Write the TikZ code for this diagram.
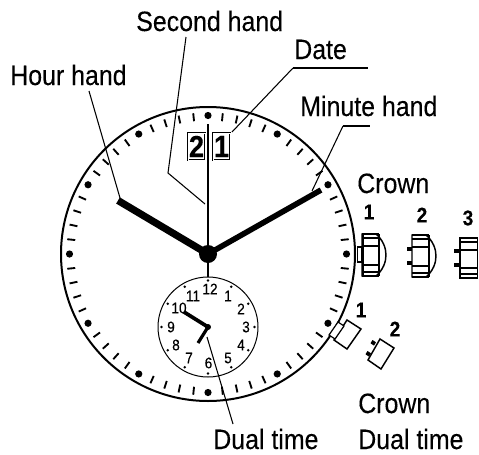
\documentclass[tikz,border=0pt]{standalone}
\usepackage{fontspec}
\usetikzlibrary{calc}
\setmainfont[FakeStretch=0.89,FakeBold=0.2]{Liberation Sans}
\newcommand{\seg}[3]{\fill ($(#2)!#1!90:(#3)$) -- ($(#2)!#1!-90:(#3)$) -- ($(#3)!#1!90:(#2)$) -- ($(#3)!#1!-90:(#2)$) -- cycle;}
\newcommand{\rib}[3]{\fill (#1,#3-0.9) rectangle (#2,#3+0.9);}
\tikzset{
  lbl/.style={anchor=base west,inner sep=0pt,font=\fontsize{21}{21}\selectfont},
  num/.style={inner sep=0pt,font=\fontsize{16}{16}\selectfont\bfseries},
  sub/.style={inner sep=0pt,font=\fontsize{11.5}{12}\selectfont},
  leader/.style={line width=0.8pt},
  part/.style={line width=1.1pt,fill=white,line join=miter},
  datebox/.style={draw,line width=0.55pt,minimum width=13pt,minimum height=20.5pt,inner sep=0pt,
    double=white,double distance=0.5pt,font=\fontsize{23}{23}\selectfont\bfseries},
}
\begin{document}
\begin{tikzpicture}[x=0.75pt,y=-0.75pt]
\useasboundingbox (0,0) rectangle (479,454);
% dial
\coordinate (c) at (208,254);
\coordinate (s) at (208,327);
\fill[even odd rule] (c) circle (148) (c) circle (146);
\foreach \a in {0,6,...,354}{
  \pgfmathtruncatemacro{\m}{mod(\a,30)}
  \ifnum\m=0
    \fill ($(c)+(\a:138.5)$) circle (3.6);
  \else
    \coordinate (t1) at ($(c)+(\a:133.5)$);
    \coordinate (t2) at ($(c)+(\a:141.5)$);
    \seg{0.7pt}{t1}{t2}
  \fi
}
% sub dial
\fill[even odd rule] (s) circle (50.5) (s) circle (49.5);
\foreach \a in {0,30,...,330}{
  \fill ($(s)+(\a:46.5)$) circle (1.3);
}
\foreach \t/\x/\y in {12/210/289,11/193/296,1/228/296,2/241/309,3/246/327,4/241/345,5/228/358,6/208.5/363,7/189/358,8/176/345,9/171/327,10/179/308}{
  \node[sub] (n\t) at (\x,\y) {\t};
}
% date
\node[datebox] (d2) at (196.5,146.5) {2};
\node[datebox] (d1) at (221.5,146.5) {1};
% hands
\seg{2.7pt}{c}{118,200.5}
\seg{2.1pt}{c}{321,190}
\seg{1pt}{208,124}{208,277}
\fill (c) circle (9);
\seg{1.4pt}{s}{184,312}
\seg{1.2pt}{s}{198,343}
\fill (s) circle (3);
% labels
\node[lbl] (sec) at (136,31) {Second hand};
\node[lbl] (date) at (294,59) {Date};
\node[lbl] (min) at (300,116) {Minute hand};
\node[lbl] (hour) at (10,85) {Hour hand};
\node[lbl] (crown) at (357,193) {Crown};
\node[lbl] (crownb) at (358,413) {Crown};
\node[lbl] (dualb) at (358,449) {Dual time};
\node[lbl] (dual) at (213,449) {Dual time};
\node[num] (a1) at (369,212) {1};
\node[num] (a2) at (422,215) {2};
\node[num] (a3) at (468,218) {3};
\node[num] (b1) at (361,310) {1};
\node[num] (b2) at (395,329) {2};
% leaders
\coordinate (lh) at (120,198);
\coordinate (ls) at (205,204);
\coordinate (ld) at (232,132);
\coordinate (lm) at (312,191);
\coordinate (lt) at (207,337);
\draw[leader] (89,91) -- (lh);
\draw[leader] (186,37) -- (168,173) -- (ls);
\draw[leader] (293,68) -- (ld);
\draw[leader] (343,126) -- (lm);
\seg{0.4pt}{293,68}{368,68}
\seg{0.4pt}{343,126}{370,126}
\draw[leader] (lt) -- (233,424);
% crown 1
\fill (357,246) rectangle (362,263);
\fill[white] (358,248) rectangle (361,261);
\draw[part] (362,234) -- (376,234) .. controls (383,240) and (386,248) .. (386,255) .. controls (386,262) and (383,270) .. (376,276) -- (362,276) -- cycle;
\seg{0.5pt}{379,234}{379,276}
\seg{0.8pt}{363,234}{363,276}
\rib{362}{379}{234}\rib{362}{379}{238}\rib{362}{379}{246}\rib{362}{379}{265}\rib{362}{379}{272}\rib{362}{379}{276}
% crown 2
\draw[part] (412,235) -- (426,235) .. controls (433,241) and (436,249) .. (436,256) .. controls (436,263) and (433,271) .. (426,277) -- (412,277) -- cycle;
\seg{0.5pt}{429,235}{429,277}
\rib{412}{429}{235}\rib{412}{429}{239}\rib{412}{429}{247}\rib{412}{429}{266}\rib{412}{429}{273}\rib{412}{429}{277}
\fill (407,247) rectangle (412,251);
\fill (407,261) rectangle (412,265);
% crown 3
\draw[part] (460,238) rectangle (477.5,278);
\rib{460}{477.5}{238}\rib{460}{477.5}{242}\rib{460}{477.5}{250}\rib{460}{477.5}{268}\rib{460}{477.5}{274}\rib{460}{477.5}{278}
\fill (454,249) rectangle (460,253);
\fill (454,263) rectangle (460,267);
% small crown 1
\draw[part] (347,320) -- (361,329) -- (347,349) -- (334,340) -- cycle;
\draw[part,line width=0.9pt] (338,322) -- (344,326) -- (335,339) -- (329,335) -- cycle;
% small crown 2
\draw[part] (380,339) -- (394,348) -- (381,369) -- (368,360) -- cycle;
\fill (372.5,340) -- (376,342.3) -- (374,345.6) -- (370.5,343.3) -- cycle;
\fill (367.5,351) -- (371,353.3) -- (369,356.6) -- (365.5,354.3) -- cycle;
\end{tikzpicture}
\end{document}
